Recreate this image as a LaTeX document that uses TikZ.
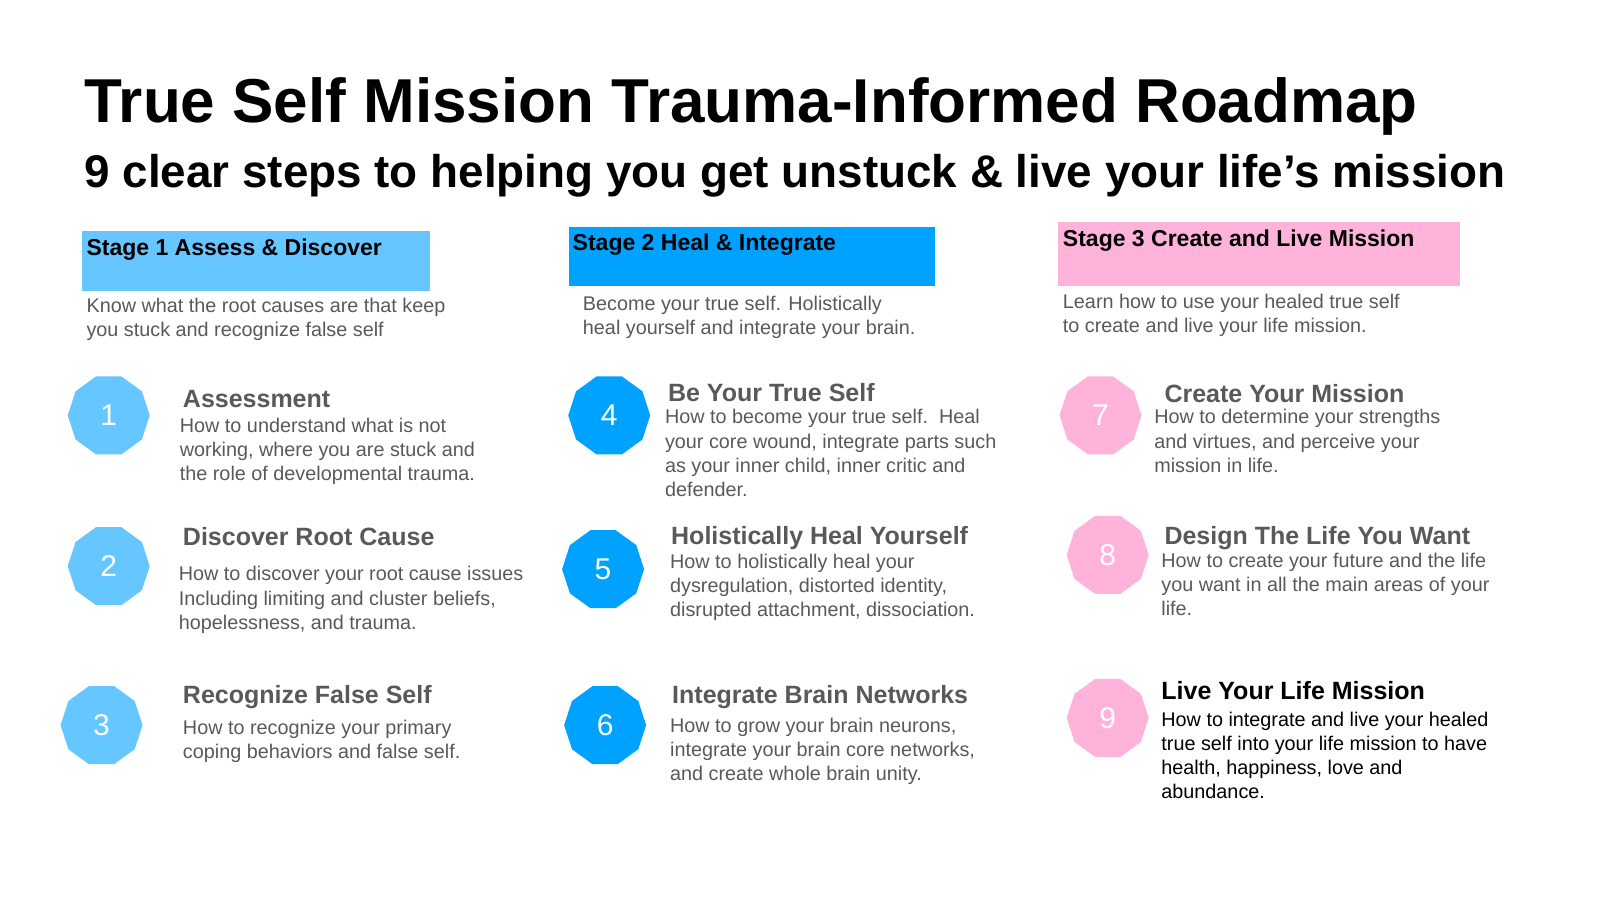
\documentclass[tikz,border=0pt]{standalone}
\usepackage{fontspec}
\setmainfont{Liberation Sans}
\usetikzlibrary{shapes}
\definecolor{skyblue}{HTML}{66C6FF}
\definecolor{deepblue}{HTML}{00A2FF}
\definecolor{pinkish}{HTML}{FFB3DA}
\definecolor{greytext}{HTML}{595959}
\tikzset{
  stepdot/.style={regular polygon, regular polygon sides=10, minimum size=41pt, inner sep=0pt, text=white, font=\fontsize{15}{15}\selectfont},
  steptitle/.style={anchor=north west, inner sep=0pt, text=greytext, font=\fontsize{12.5}{13}\selectfont\bfseries},
  stepbody/.style={anchor=north west, inner sep=0pt, align=left, text=greytext, font=\fontsize{9.9}{12.05}\selectfont},
  stagehead/.style={anchor=north west, inner sep=0pt, font=\fontsize{11.5}{12}\selectfont\bfseries}
}
\begin{document}
\begin{tikzpicture}[x=0.5128pt,y=-0.5128pt]
\useasboundingbox (0,0) rectangle (1560,877.5);
\node[anchor=base west, inner sep=0pt, font=\fontsize{31}{31}\selectfont\bfseries] (title) at (82,119) {True Self Mission Trauma-Informed Roadmap};
\node[anchor=base west, inner sep=0pt, font=\fontsize{22.9}{23}\selectfont\bfseries] (subtitle) at (82,183) {9 clear steps to helping you get unstuck \& live your life’s mission};
% stage headers
\fill[skyblue] (80,225) rectangle (419,284);
\fill[deepblue] (555,221) rectangle (912,279);
\fill[pinkish] (1032,216) rectangle (1423,279);
\node[stagehead] (s1) at (84,232) {Stage 1 Assess \& Discover};
\node[stagehead] (s2) at (558,228) {Stage 2 Heal \& Integrate};
\node[stagehead] (s3) at (1036,224) {Stage 3 Create and Live Mission};
\node[stepbody] (d1) at (84,290) {Know what the root causes are that keep\\you stuck and recognize false self};
\node[stepbody] (d2) at (568,288) {Become your true self. Holistically\\heal yourself and integrate your brain.};
\node[stepbody] (d3) at (1036,286) {Learn how to use your healed true self\\to create and live your life mission.};
% column 1
\node[stepdot, fill=skyblue] (n1) at (106,405) {1};
\node[stepdot, fill=skyblue] (n2) at (106,552) {2};
\node[stepdot, fill=skyblue] (n3) at (99,707) {3};
\node[steptitle] (t1) at (178,380) {Assessment};
\node[stepbody] (b1) at (175,407) {How to understand what is not\\working, where you are stuck and\\the role of developmental trauma.};
\node[steptitle] (t2) at (178,514) {Discover Root Cause};
\node[stepbody] (b2) at (174,552) {How to discover your root cause issues\\Including limiting and cluster beliefs,\\hopelessness, and trauma.};
\node[steptitle] (t3) at (178,668) {Recognize False Self};
\node[stepbody] (b3) at (178,702) {How to recognize your primary\\coping behaviors and false self.};
% column 2
\node[stepdot, fill=deepblue] (n4) at (594,405) {4};
\node[stepdot, fill=deepblue] (n5) at (588,555) {5};
\node[stepdot, fill=deepblue] (n6) at (590,707) {6};
\node[steptitle] (t4) at (651,373) {Be Your True Self};
\node[stepbody] (b4) at (648,399) {How to become your true self.\ \ Heal\\your core wound, integrate parts such\\as your inner child, inner critic and\\defender.};
\node[steptitle] (t5) at (654,513) {Holistically Heal Yourself};
\node[stepbody] (b5) at (653,540) {How to holistically heal your\\dysregulation, distorted identity,\\disrupted attachment, dissociation.};
\node[steptitle] (t6) at (655,668) {Integrate Brain Networks};
\node[stepbody] (b6) at (653,700) {How to grow your brain neurons,\\integrate your brain core networks,\\and create whole brain unity.};
% column 3
\node[stepdot, fill=pinkish] (n7) at (1073,405) {7};
\node[stepdot, fill=pinkish] (n8) at (1080,541) {8};
\node[stepdot, fill=pinkish] (n9) at (1080,700) {9};
\node[steptitle] (t7) at (1135,374) {Create Your Mission};
\node[stepbody] (b7) at (1125,399) {How to determine your strengths\\and virtues, and perceive your\\mission in life.};
\node[steptitle] (t8) at (1135,513) {Design The Life You Want};
\node[stepbody] (b8) at (1132,539) {How to create your future and the life\\you want in all the main areas of your\\life.};
\node[steptitle, text=black] (t9) at (1132,664) {Live Your Life Mission};
\node[stepbody, text=black] (b9) at (1132,694) {How to integrate and live your healed\\true self into your life mission to have\\health, happiness, love and\\abundance.};
\end{tikzpicture}
\end{document}
